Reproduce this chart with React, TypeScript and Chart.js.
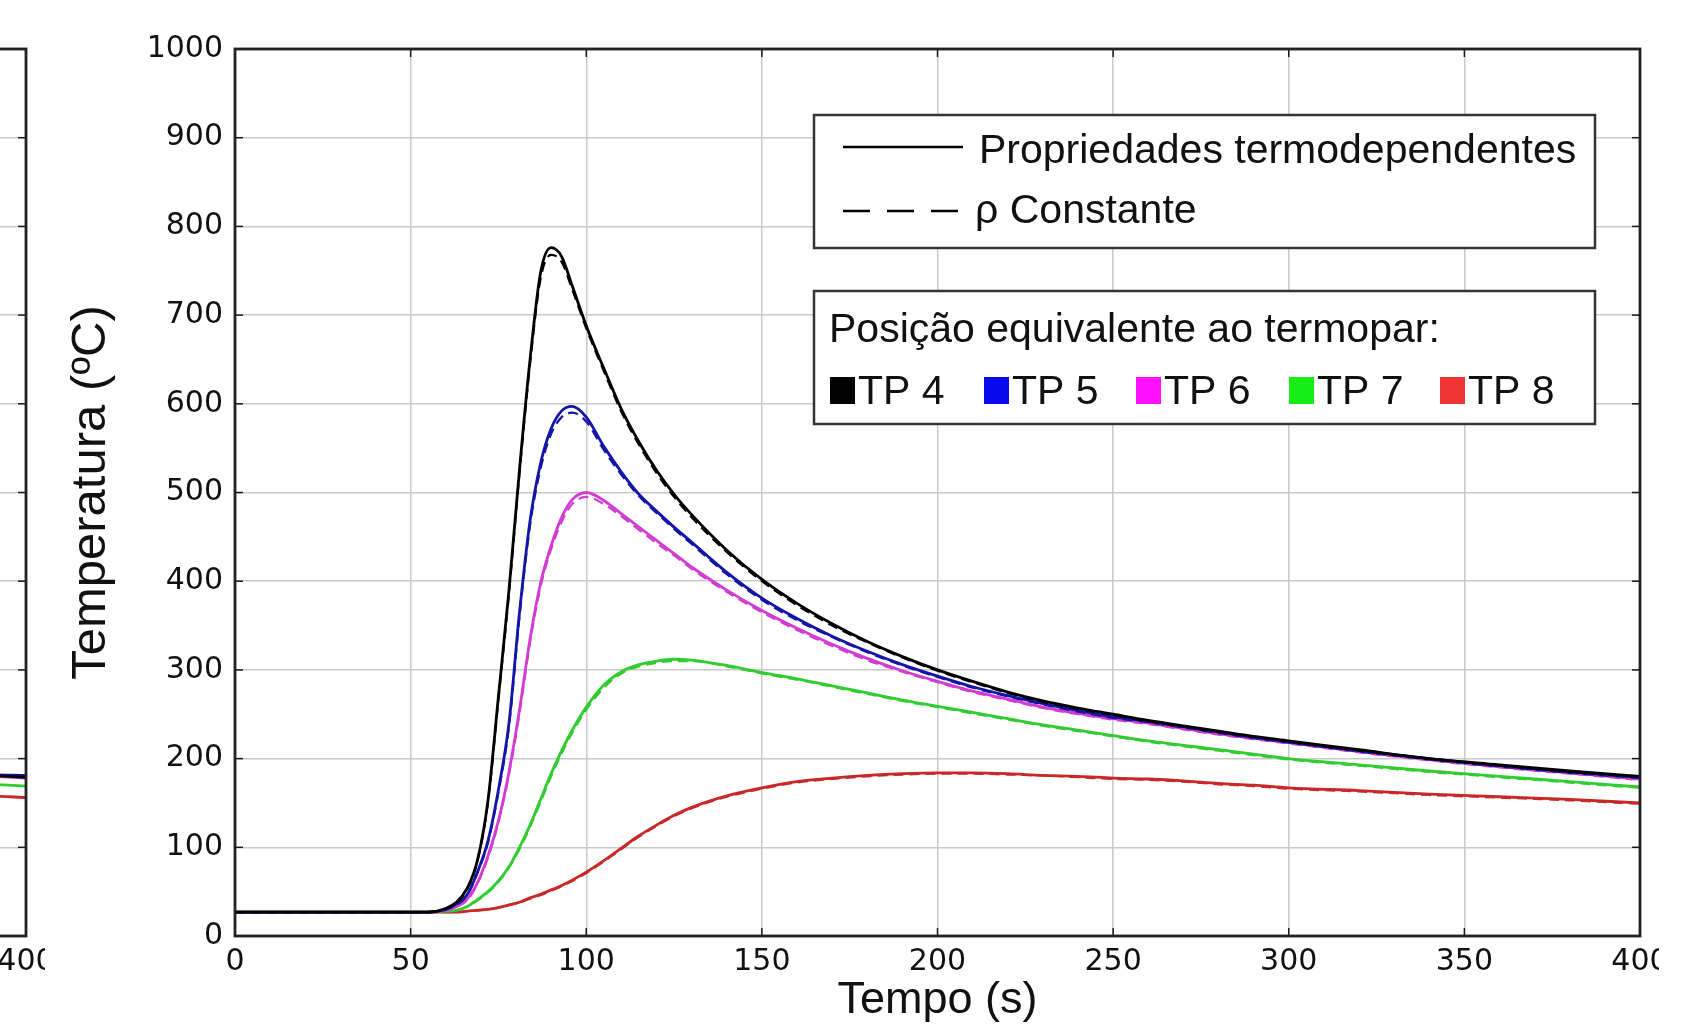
import React, { useEffect, useRef } from 'react';
import { Chart, registerables } from 'chart.js';

Chart.register(...registerables);

// ---------------- DATA ----------------
const tempo = [0, 20, 40, 55, 60, 63, 66, 69, 72, 75, 78, 81, 84, 87, 90, 93, 96, 100, 105, 110, 115, 120, 125, 130, 140, 150, 160, 170, 180, 190, 200, 210, 220, 230, 240, 250, 260, 270, 280, 290, 300, 320, 340, 360, 380, 400];

const tp4Termo = [27, 27, 27, 27, 31, 38, 53, 85, 152, 270, 390, 526, 650, 748, 776, 766, 733, 688, 640, 594, 557, 525, 498, 475, 435, 402, 375, 352, 332, 315, 300, 287, 275, 265, 257, 250, 243, 237, 231, 225, 220, 210, 200, 193, 186, 180];
const tp4Const = [27, 27, 27, 27, 31, 37, 52, 84, 150, 267, 386, 522, 645, 741, 768, 760, 729, 685, 637, 591, 554, 522, 495, 472, 433, 400, 373, 350, 331, 314, 299, 286, 274, 264, 256, 249, 242, 236, 230, 225, 219, 209, 200, 192, 185, 179];

const tp5Termo = [27, 27, 27, 27, 30, 36, 46, 72, 107, 165, 240, 365, 468, 533, 572, 592, 597, 585, 552, 523, 498, 479, 461, 444, 410, 381, 358, 338, 321, 306, 293, 281, 271, 262, 254, 247, 242, 236, 230, 224, 219, 209, 200, 192, 185, 179];
const tp5Const = [27, 27, 27, 27, 30, 35, 45, 71, 105, 162, 236, 360, 463, 527, 566, 585, 590, 580, 548, 520, 496, 477, 459, 442, 408, 379, 356, 337, 320, 305, 292, 280, 270, 261, 253, 246, 241, 235, 229, 223, 218, 208, 199, 191, 184, 178];

const tp6Termo = [27, 27, 27, 27, 29, 33, 41, 60, 90, 130, 185, 255, 335, 398, 440, 472, 492, 500, 491, 476, 461, 446, 431, 416, 390, 367, 347, 329, 313, 299, 287, 276, 267, 258, 251, 245, 240, 234, 228, 223, 218, 208, 199, 191, 184, 177];
const tp6Const = [27, 27, 27, 27, 29, 33, 40, 59, 88, 128, 182, 251, 331, 394, 436, 467, 487, 495, 487, 473, 458, 443, 429, 414, 388, 365, 345, 327, 311, 298, 286, 275, 266, 257, 250, 244, 239, 233, 227, 222, 217, 207, 198, 190, 183, 176];

const tp7Termo = [27, 27, 27, 27, 28, 29, 33, 41, 50, 62, 78, 100, 125, 154, 183, 209, 232, 258, 283, 298, 306, 310, 312, 311, 305, 297, 290, 282, 274, 266, 259, 252, 245, 238, 232, 226, 220, 215, 210, 205, 200, 193, 186, 180, 174, 168];
const tp7Const = [27, 27, 27, 27, 28, 29, 33, 40, 49, 61, 77, 98, 123, 151, 180, 206, 229, 255, 280, 296, 304, 308, 310, 310, 304, 296, 289, 281, 273, 265, 258, 251, 244, 237, 231, 225, 219, 214, 209, 204, 199, 192, 185, 179, 173, 167];

const tp8Termo = [27, 27, 27, 27, 27, 27, 28, 29, 30, 32, 35, 38, 43, 47, 52, 57, 63, 72, 85, 99, 113, 125, 136, 145, 158, 167, 174, 178, 181, 183, 184, 184, 183, 181, 180, 178, 177, 175, 172, 170, 167, 164, 160, 157, 154, 150];
const tp8Const = [27, 27, 27, 27, 27, 27, 28, 29, 30, 32, 35, 38, 42, 46, 51, 56, 62, 71, 84, 98, 112, 124, 135, 144, 157, 166, 173, 177, 180, 182, 183, 183, 182, 181, 179, 177, 176, 174, 171, 169, 166, 163, 159, 156, 153, 149];

// Left (neighbouring, cut-off) panel: only its last seconds are visible
const leftTempo = [370, 380, 390, 400];
const leftTp4 = [186, 183, 181, 179];
const leftTp5 = [187, 184, 182, 181];
const leftTp6 = [184, 182, 180, 178];
const leftTp7 = [175, 173, 171, 169];
const leftTp8 = [161, 159, 158, 156];

const legendLinhas = ['Propriedades termodependentes', '\u03C1 Constante'];
const legendTitulo = 'Posi\u00E7\u00E3o equivalente ao termopar:';
const termopares = ['TP 4', 'TP 5', 'TP 6', 'TP 7', 'TP 8'];

// ---------------- STYLE ----------------
const lineColors = ['#000000', '#1414a8', '#d23cd2', '#30cc30', '#c82828'];
const boxColors = ['#000000', '#0a0aee', '#ff10ff', '#16ec16', '#ee3434'];
const SANS = '"Liberation Sans", Arial, sans-serif';
const TICK_FONT = { family: '"DejaVu Sans", sans-serif', size: 30 };
const CANVAS_W = 1700;
const CANVAS_H = 1027;
const PLOT = { left: 235, right: 1640, top: 49, bottom: 936 };

function pts(xs: number[], ys: number[]) {
  return xs.map((x, i) => ({ x, y: ys[i] }));
}

function makeDatasets(xs: number[], termo: number[][], cons: number[][] | null) {
  const ds: any[] = [];
  termo.forEach((vals, k) => {
    ds.push({
      label: termopares[k] + ' termo',
      data: pts(xs, vals),
      borderColor: lineColors[k],
      borderWidth: 2.8,
      pointRadius: 0,
      fill: false,
    });
    if (cons) {
      ds.push({
        label: termopares[k] + ' const',
        data: pts(xs, cons[k]),
        borderColor: lineColors[k],
        borderWidth: 2.2,
        borderDash: [10, 6],
        pointRadius: 0,
        fill: false,
      });
    }
  });
  return ds;
}

const framePlugin = {
  id: 'frameTicks',
  afterDatasetsDraw(chart: any) {
    const { ctx, chartArea: a, scales } = chart;
    ctx.save();
    ctx.strokeStyle = '#1a1a1a';
    ctx.lineWidth = 1.5;
    const seg = (x1: number, y1: number, x2: number, y2: number) => {
      ctx.beginPath();
      ctx.moveTo(x1, y1);
      ctx.lineTo(x2, y2);
      ctx.stroke();
    };
    for (const t of scales.y.ticks) {
      const y = scales.y.getPixelForValue(t.value);
      seg(a.left, y, a.left + 8, y);
      seg(a.right - 8, y, a.right, y);
    }
    for (const t of scales.x.ticks) {
      const x = scales.x.getPixelForValue(t.value);
      seg(x, a.bottom, x, a.bottom - 8);
      seg(x, a.top, x, a.top + 8);
    }
    ctx.lineWidth = 2.8;
    ctx.strokeStyle = '#222';
    ctx.strokeRect(a.left, a.top, a.right - a.left, a.bottom - a.top);
    ctx.restore();
  },
};

const legendPlugin = {
  id: 'customLegend',
  afterDraw(chart: any) {
    const ctx = chart.ctx;
    ctx.save();
    ctx.font = '41px ' + SANS;
    ctx.textBaseline = 'alphabetic';
    ctx.textAlign = 'left';

    // box 1 : line styles
    ctx.fillStyle = '#ffffff';
    ctx.fillRect(814, 115, 781, 133);
    ctx.strokeStyle = '#353535';
    ctx.lineWidth = 2.5;
    ctx.strokeRect(814, 115, 781, 133);

    ctx.strokeStyle = '#000';
    ctx.lineWidth = 2.6;
    ctx.setLineDash([]);
    ctx.beginPath();
    ctx.moveTo(843, 147);
    ctx.lineTo(963, 147);
    ctx.stroke();
    ctx.setLineDash([27, 17]);
    ctx.beginPath();
    ctx.moveTo(843, 211);
    ctx.lineTo(963, 211);
    ctx.stroke();
    ctx.setLineDash([]);

    ctx.fillStyle = '#111';
    ctx.fillText(legendLinhas[0], 979, 163);
    ctx.fillText(legendLinhas[1], 975, 223);

    // box 2 : thermocouples
    ctx.fillStyle = '#ffffff';
    ctx.fillRect(814, 291, 781, 133);
    ctx.strokeStyle = '#353535';
    ctx.lineWidth = 2.5;
    ctx.strokeRect(814, 291, 781, 133);

    ctx.fillStyle = '#111';
    ctx.fillText(legendTitulo, 829, 342);

    const sq = [830, 984, 1136, 1289, 1440];
    termopares.forEach((name, k) => {
      ctx.fillStyle = boxColors[k];
      ctx.fillRect(sq[k], 377, 25, 27);
      ctx.fillStyle = '#111';
      ctx.fillText(name, sq[k] + 28, 404);
    });
    ctx.restore();
  },
};

function makeConfig(datasets: any[], withLegend: boolean): any {
  return {
    type: 'line',
    data: { datasets },
    options: {
      responsive: false,
      animation: false,
      events: [],
      layout: { padding: { left: 0, top: PLOT.top, right: CANVAS_W - PLOT.right, bottom: 0 } },
      plugins: {
        legend: { display: false },
        tooltip: { enabled: false },
        title: { display: false },
      },
      elements: { line: { cubicInterpolationMode: 'monotone' }, point: { radius: 0 } },
      scales: {
        x: {
          type: 'linear',
          min: 0,
          max: 400,
          ticks: {
            stepSize: 50,
            autoSkip: false,
            maxRotation: 0,
            padding: 8,
            color: '#111',
            font: TICK_FONT,
            callback: (v: any) => String(v),
          },
          grid: { color: '#c9c9c9', lineWidth: 1.5, drawTicks: false },
          border: { display: false },
          title: {
            display: true,
            text: 'Tempo (s)',
            color: '#111',
            font: { family: SANS, size: 45, lineHeight: 1 },
            padding: { top: 0, bottom: 4 },
          },
          afterFit: (s: any) => {
            s.height = CANVAS_H - PLOT.bottom;
          },
        },
        y: {
          type: 'linear',
          min: 0,
          max: 1000,
          ticks: {
            stepSize: 100,
            padding: 12,
            color: '#111',
            font: TICK_FONT,
            callback: (v: any) => String(v),
          },
          grid: { color: '#c9c9c9', lineWidth: 1.5, drawTicks: false },
          border: { display: false },
          title: {
            display: true,
            text: 'Temperatura (\u00BAC)',
            color: '#111',
            font: { family: SANS, size: 49, lineHeight: 1 },
            padding: { top: 67, bottom: 0 },
          },
          afterFit: (s: any) => {
            s.width = PLOT.left;
          },
        },
      },
    },
    plugins: withLegend ? [framePlugin, legendPlugin] : [framePlugin],
  };
}

export default function App() {
  const mainRef = useRef<HTMLCanvasElement | null>(null);
  const leftRef = useRef<HTMLCanvasElement | null>(null);

  useEffect(() => {
    document.body.style.margin = '0';
    const mainDs = makeDatasets(
      tempo,
      [tp4Termo, tp5Termo, tp6Termo, tp7Termo, tp8Termo],
      [tp4Const, tp5Const, tp6Const, tp7Const, tp8Const]
    );
    const leftDs = makeDatasets(leftTempo, [leftTp4, leftTp5, leftTp6, leftTp7, leftTp8], null);
    const main = new Chart(mainRef.current as HTMLCanvasElement, makeConfig(mainDs, true));
    const left = new Chart(leftRef.current as HTMLCanvasElement, makeConfig(leftDs, false));
    return () => {
      main.destroy();
      left.destroy();
    };
  }, []);

  return (
    <div style={{ position: 'fixed', left: 0, top: 0, width: 1693, height: 1027, background: '#ffffff', overflow: 'hidden' }}>
      <div style={{ position: 'absolute', left: 0, top: 0, width: 45, height: CANVAS_H, overflow: 'hidden' }}>
        <canvas
          ref={leftRef}
          width={CANVAS_W}
          height={CANVAS_H}
          style={{ position: 'absolute', left: -(PLOT.right - 26), top: 0, width: CANVAS_W, height: CANVAS_H, display: 'block' }}
        />
      </div>
      <div style={{ position: 'absolute', left: 0, top: 0, width: 1659, height: CANVAS_H, overflow: 'hidden' }}>
        <canvas
          ref={mainRef}
          width={CANVAS_W}
          height={CANVAS_H}
          style={{ position: 'absolute', left: 0, top: 0, width: CANVAS_W, height: CANVAS_H, display: 'block' }}
        />
      </div>
    </div>
  );
}
